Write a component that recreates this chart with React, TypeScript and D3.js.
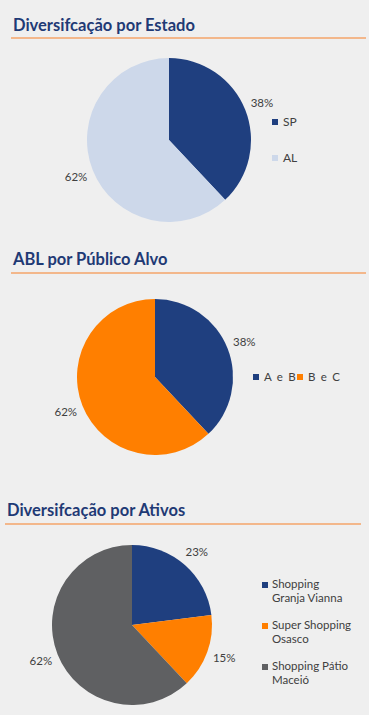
import * as d3 from "d3";

const estadoLabels = ["SP", "AL"];
const estadoValues = [38, 62];
const estadoColors = ["#1f3f7f", "#cdd8ea"];

const publicoLabels = ["A e B", "B e C"];
const publicoValues = [38, 62];
const publicoColors = ["#1f3f7f", "#ff7f00"];

const ativosLabels = [
  ["Shopping", "Granja Vianna"],
  ["Super Shopping", "Osasco"],
  ["Shopping Pátio", "Maceió"],
];
const ativosValues = [23, 15, 62];
const ativosColors = ["#1f3f7f", "#ff7f00", "#5f6062"];

const W = 369;
const H = 715;
const TITLE = "#1f3a75";
const TEXT = "#404040";
const FONT = "Lato, 'Open Sans', sans-serif";

function Title({ x, y, x2, lineY, text }: { x: number; y: number; x2: number; lineY: number; text: string }) {
  return (
    <g>
      <text x={x} y={y} fill={TITLE} fontSize={16.5} fontWeight="bold" fontFamily={FONT}>
        {text}
      </text>
      <line x1={x - 2} x2={x2} y1={lineY} y2={lineY} stroke="#f4a46a" strokeWidth={1.5} />
    </g>
  );
}

function Pie({ cx, cy, r, values, colors }: { cx: number; cy: number; r: number; values: number[]; colors: string[] }) {
  const arcs = d3.pie<number>().sort(null).value((d) => d)(values);
  const arc = d3.arc<d3.PieArcDatum<number>>().innerRadius(0).outerRadius(r);
  const labelArc = d3.arc<d3.PieArcDatum<number>>().innerRadius(r + 18).outerRadius(r + 18);
  return (
    <g transform={`translate(${cx},${cy})`}>
      {arcs.map((a, i) => (
        <path key={i} d={arc(a) ?? ""} fill={colors[i]} />
      ))}
      {arcs.map((a, i) => {
        const [lx, ly] = labelArc.centroid(a);
        return (
          <text key={"l" + i} x={lx} y={ly + 4} textAnchor="middle" fill={TEXT} fontSize={11.5} fontFamily={FONT}>
            {a.data}%
          </text>
        );
      })}
    </g>
  );
}

export default function App() {
  const legend1Y = d3.scalePoint<string>().domain(estadoLabels).range([126, 162]);
  const legend2X = d3.scalePoint<string>().domain(publicoLabels).range([253, 297]);
  const legend3Y = d3.scaleBand<number>().domain(d3.range(ativosValues.length)).range([577, 700]);

  return (
    <svg width={W} height={H} style={{ position: "absolute", left: 0, top: 0 }}>
      <rect width={W} height={H} fill="#efefef" />

      {/* Diversificação por Estado */}
      <Title x={13} y={31} x2={366} lineY={38} text="Diversifcação por Estado" />
      <Pie cx={169} cy={140} r={82} values={estadoValues} colors={estadoColors} />
      {estadoLabels.map((l, i) => (
        <g key={l}>
          <rect x={272} y={legend1Y(l)! - 7} width={6} height={6} fill={estadoColors[i]} />
          <text x={283} y={legend1Y(l)} fill={TEXT} fontSize={12} fontFamily={FONT}>
            {l}
          </text>
        </g>
      ))}

      {/* ABL por Público Alvo */}
      <Title x={13} y={265} x2={366} lineY={273} text="ABL por Público Alvo" />
      <Pie cx={155} cy={377} r={78} values={publicoValues} colors={publicoColors} />
      {publicoLabels.map((l, i) => (
        <g key={l}>
          <rect x={legend2X(l)!} y={374} width={6} height={6} fill={publicoColors[i]} />
          <text x={legend2X(l)! + 11} y={381} fill={TEXT} fontSize={11.5} fontFamily={FONT} letterSpacing={1.2}>
            {l}
          </text>
        </g>
      ))}

      {/* Diversificação por Ativos */}
      <Title x={7} y={516} x2={361} lineY={524} text="Diversifcação por Ativos" />
      <Pie cx={132} cy={625} r={80} values={ativosValues} colors={ativosColors} />
      {ativosLabels.map((lines, i) => {
        const y = legend3Y(i)! + 11;
        return (
          <g key={i}>
            <rect x={262} y={y - 6} width={6} height={6} fill={ativosColors[i]} />
            {lines.map((t, j) => (
              <text key={j} x={272} y={y + j * 14} fill={TEXT} fontSize={11.5} fontFamily={FONT}>
                {t}
              </text>
            ))}
          </g>
        );
      })}
    </svg>
  );
}
